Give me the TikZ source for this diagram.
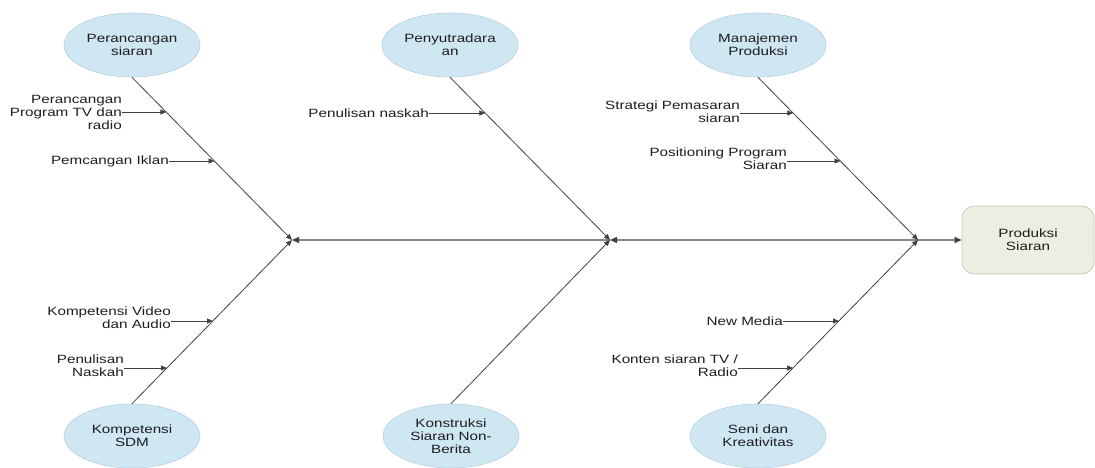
\documentclass[tikz,border=0pt]{standalone}
\usepackage{fontspec}
\setmainfont{Liberation Sans}[FakeStretch=1.27]
\usetikzlibrary{arrows.meta,shapes.geometric}
\definecolor{ellfill}{RGB}{207,230,243}
\definecolor{ellline}{RGB}{185,208,224}
\definecolor{boxfill}{RGB}{237,237,225}
\definecolor{boxline}{RGB}{195,195,185}
\definecolor{txt}{RGB}{30,30,30}
\definecolor{ln}{RGB}{65,65,65}
\definecolor{spine}{RGB}{135,135,135}
\begin{document}
\begin{tikzpicture}[x=1pt,y=-1pt,
  every node/.style={font=\fontsize{12}{13}\selectfont, text=txt},
  cause/.style={ellipse, fill=ellfill, draw=ellline, line width=0.6pt, minimum width=136pt, minimum height=64pt, inner sep=0pt, align=center},
  effect/.style={rectangle, rounded corners=12pt, fill=boxfill, draw=boxline, line width=0.6pt, minimum width=132pt, minimum height=68pt, align=center},
  lbl/.style={anchor=east, align=right, inner sep=0pt},
  bone/.style={draw=ln, line width=0.8pt, -{Triangle[length=6pt,width=5pt]}},
  sub/.style={draw=ln, line width=0.8pt, -{Triangle[length=6pt,width=5pt]}},
  spn/.style={draw=spine, line width=1.4pt, -{Triangle[length=7pt,width=6pt,color=ln]}}
]
\useasboundingbox (0,0) rectangle (1095,468);

% junctions
\coordinate (J1) at (292,240);
\coordinate (J2) at (610,240);
\coordinate (J3) at (918,240);

% effect
\node[effect] (eff) at (1028,240) {Produksi\\Siaran};

% causes
\node[cause] (E1) at (132,45) {Perancangan\\siaran};
\node[cause] (E2) at (450,45) {Penyutradara\\an};
\node[cause] (E3) at (758,45) {Manajemen\\Produksi};
\node[cause] (E4) at (132,436) {Kompetensi\\SDM};
\node[cause] (E5) at (451,436) {Konstruksi\\Siaran Non-\\Berita};
\node[cause] (E6) at (758,436) {Seni dan\\Kreativitas};

% spine
\draw[spn] (J3) -- (eff.west);
\draw[spn] (J3) -- (J2);
\draw[spn] (J2) -- (J1);

% bones
\draw[bone] (E1.south) -- (J1);
\draw[bone] (E4.north) -- (J1);
\draw[bone] (E2.south) -- (J2);
\draw[bone] (E5.north) -- (J2);
\draw[bone] (E3.south) -- (J3);
\draw[bone] (E6.north) -- (J3);

% sub-cause targets on bones
\coordinate (A1) at (166.4,112);
\coordinate (A2) at (214.5,161);
\coordinate (A3) at (485.3,113);
\coordinate (A4) at (793.3,113);
\coordinate (A5) at (840.5,161);
\coordinate (A6) at (213,321);
\coordinate (A7) at (167,368);
\coordinate (A8) at (839,321);
\coordinate (A9) at (793,368);

% sub-cause labels
\node[lbl] (L1) at (122,112) {Perancangan\\Program TV dan\\radio};
\node[lbl] (L2) at (169,161) {Pemcangan Iklan};
\node[lbl] (L3) at (429,113) {Penulisan naskah};
\node[lbl] (L4) at (740,111.5) {Strategi Pemasaran\\siaran};
\node[lbl] (L5) at (787,159) {Positioning Program\\Siaran};
\node[lbl] (L6) at (171,318) {Kompetensi Video\\dan Audio};
\node[lbl] (L7) at (124,365.5) {Penulisan\\Naskah};
\node[lbl] (L8) at (783,321) {New Media};
\node[lbl] (L9) at (738,365.5) {Konten siaran TV /\\Radio};

\draw[sub] (A1 -| L1.east) -- (A1);
\draw[sub] (A2 -| L2.east) -- (A2);
\draw[sub] (A3 -| L3.east) -- (A3);
\draw[sub] (A4 -| L4.east) -- (A4);
\draw[sub] (A5 -| L5.east) -- (A5);
\draw[sub] (A6 -| L6.east) -- (A6);
\draw[sub] (A7 -| L7.east) -- (A7);
\draw[sub] (A8 -| L8.east) -- (A8);
\draw[sub] (A9 -| L9.east) -- (A9);
\end{tikzpicture}
\end{document}
